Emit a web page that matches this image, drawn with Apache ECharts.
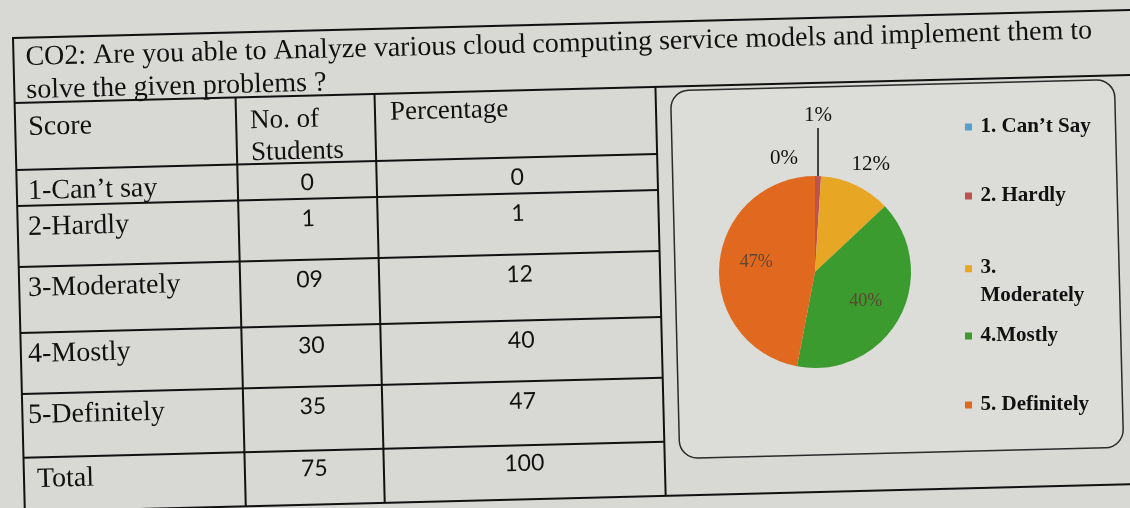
<!DOCTYPE html>
<html>
<head>
<meta charset="utf-8">
<script src="https://cdn.jsdelivr.net/npm/echarts@6/dist/echarts.min.js"></script>
<style>
html, body { margin: 0; padding: 0; background: #d8d8d5; }
#main { width: 1130px; height: 508px; }
</style>
</head>
<body>
<div id="main"></div>
<script>
// values
const titleLines = ['CO2: Are you able to Analyze various cloud computing service models and implement them to', 'solve the given problems ?']
const headScore = 'Score'
const headStudents = ['No. of', 'Students']
const headPercent = 'Percentage'
const scoreLabels = ['1-Can’t say', '2-Hardly', '3-Moderately', '4-Mostly', '5-Definitely']
const studentCounts = ['0', '1', '09', '30', '35']
const percentValues = [0, 1, 12, 40, 47]
const totalRow = ['Total', '75', '100']
const legendNames = ['1. Can’t Say', '2. Hardly', '3.\nModerately', '4.Mostly', '5. Definitely']

const sliceColors = ['#539fd2', '#bd5350', '#e7a624', '#3c9b2e', '#e0691f']
const serif = 'Liberation Serif'
const ink = '#111111'

// sheet frame (photo is tilted a little)
const sheetX = 13, sheetY = 38, sheetTilt = 0.025
const colX = [0, 221, 360, 641]
const headTop = 65
const rowLines = [132, 168, 229, 295, 356, 420, 474]
const legendTops = [113, 182, 254, 322, 391]
// pie label nudges [dx, dy]
const labelNudge = [[-12, 0], null, [-17, -4], [6, 5], [-8, -5]]
// square icon; the tall variant keeps the square beside the first line of a two-line name
const squareIcon = 'path://M0,0h10v10h-10z'
const topSquareIcon = 'path://M0,0h10v10h-10zM0,48h10'

var kids = []
function line(x1, y1, x2, y2, w) {
    kids.push({ type: 'line', shape: { x1: x1, y1: y1, x2: x2, y2: y2 }, style: { stroke: ink, lineWidth: w || 2 } })
}
function txt(t, x, y, size, align, family) {
    kids.push({
        type: 'text',
        style: { text: t, x: x, y: y, fontSize: size, fontFamily: family || serif, fill: ink, align: align || 'left', verticalAlign: 'middle' },
    })
}

// outer frame + grid
kids.push({ type: 'rect', shape: { x: 0, y: 0, width: 1160, height: rowLines[6] }, style: { fill: 'none', stroke: ink, lineWidth: 2 } })
line(0, headTop, 1160, headTop)
for (var i = 0; i < 6; i++) line(0, rowLines[i], colX[3], rowLines[i])
for (var j = 1; j < 4; j++) line(colX[j], headTop, colX[j], rowLines[6])

// chart box
kids.push({
    type: 'rect',
    shape: { x: 656, y: 69, width: 444, height: 368, r: 18 },
    style: { fill: '#dcdcd9', stroke: '#2a2a2a', lineWidth: 1.5 },
})

txt(titleLines[0], 12, 20, 28)
txt(titleLines[1], 12, 53, 28)
txt(headScore, 13, 90, 28)
txt(headStudents[0], 235, 89, 27)
txt(headStudents[1], 235, 121, 27)
txt(headPercent, 375, 84, 27)

var midB = (colX[1] + colX[2]) / 2
var midC = (colX[2] + colX[3]) / 2
for (var k = 0; k < 5; k++) {
    var ty = rowLines[k] + 22
    txt(scoreLabels[k], 15 - sheetTilt * ty, ty, 28)
    txt(studentCounts[k], midB, rowLines[k] + 20, 23, 'center', 'Lato')
    txt(String(percentValues[k]), midC, rowLines[k] + 20, 23, 'center', 'Lato')
}
var tt = rowLines[5] + 22
txt(totalRow[0], 24 - sheetTilt * tt, tt, 28)
txt(totalRow[1], midB, rowLines[5] + 18, 23, 'center', 'Lato')
txt(totalRow[2], midC, rowLines[5] + 18, 23, 'center', 'Lato')

var chart = echarts.init(document.getElementById('main'))
var option = {
    backgroundColor: '#d8d8d5',
    color: sliceColors,
    graphic: [{ type: 'group', x: sheetX, y: sheetY, rotation: sheetTilt, z: 0, children: kids }],
    legend: legendNames.map(function (n, i) {
        var twoLine = n.indexOf('\n') >= 0
        return {
            data: [n],
            left: 965,
            top: legendTops[i],
            padding: 0,
            icon: twoLine ? topSquareIcon : squareIcon,
            itemWidth: 14,
            itemHeight: twoLine ? 33.6 : 7,
            selectedMode: false,
            textStyle: { fontFamily: serif, fontSize: 21, fontWeight: 'bold', color: ink, lineHeight: 28 },
        }
    }),
    series: [
        {
            type: 'pie',
            center: [815, 272],
            radius: 96,
            startAngle: 90,
            avoidLabelOverlap: false,
            z: 3,
            itemStyle: { borderWidth: 0 },
            label: { formatter: '{c}%', fontFamily: serif, fontSize: 21, color: ink },
            labelLine: { show: false, length: 18, length2: 0, lineStyle: { color: ink, width: 1.5 } },
            labelLayout: function (p) {
                if (p.dataIndex === 1 && p.labelLinePoints) {
                    var a = p.labelLinePoints[0]
                    return { x: a[0], y: a[1] - 50, align: 'center', verticalAlign: 'bottom', labelLinePoints: [a, [a[0], a[1] - 48], [a[0], a[1] - 48]] }
                }
                var n = labelNudge[p.dataIndex]
                if (n) return { dx: n[0], dy: n[1] }
            },
            data: percentValues.map(function (v, i) {
                var d = { value: v, name: legendNames[i] }
                if (i === 1) d.labelLine = { show: true }
                if (i >= 3) d.label = { position: 'inside', fontSize: 18, color: '#5e4634' }
                return d
            }),
        },
    ],
}
chart.setOption(option)
</script>
</body>
</html>
